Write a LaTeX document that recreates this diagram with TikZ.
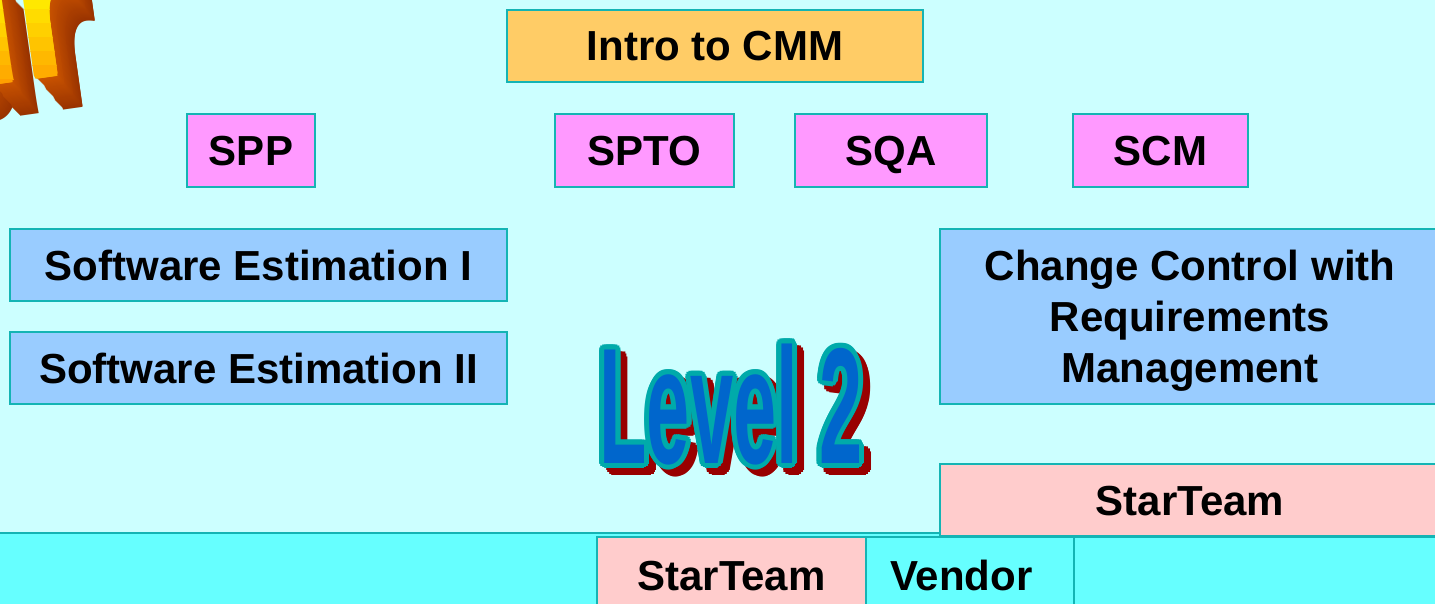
\documentclass[tikz,border=0pt]{standalone}
\usepackage{fontspec}
\setmainfont{Liberation Sans}
\usetikzlibrary{positioning}

\definecolor{pagecyan}{HTML}{CCFFFF}
\definecolor{edgeteal}{HTML}{14B4B4}
\definecolor{introfill}{HTML}{FFCC66}
\definecolor{kpafill}{HTML}{FF99FF}
\definecolor{coursefill}{HTML}{99CCFF}
\definecolor{toolfill}{HTML}{FFCCCC}
\definecolor{bandfill}{HTML}{66FFFF}
\definecolor{lvlblue}{HTML}{0066CC}
\definecolor{lvlrim}{HTML}{00AAAA}
\definecolor{lvlshadow}{HTML}{990000}
\definecolor{urtop}{HTML}{FFE800}
\definecolor{urbot}{HTML}{FF9200}
\definecolor{urside}{HTML}{CC5500}
\definecolor{urdeep}{HTML}{993300}

\begin{document}
\begin{tikzpicture}[x=1pt,y=-1pt,
  font=\fontsize{42}{51}\selectfont\bfseries,
  box/.style={draw=edgeteal,line width=1.6pt,inner sep=0pt,outer sep=0pt,align=center,anchor=north west},
  oneline/.style={text height=30pt,text depth=0pt},
  kpa/.style={box,oneline,fill=kpafill,minimum height=73pt},
  course/.style={box,fill=coursefill},
  tool/.style={box,oneline,fill=toolfill},
  lvl/.style={inner sep=0pt,anchor=base,xscale=0.47,font=\fontsize{165}{165}\selectfont\bfseries},
  urtxt/.style={inner sep=0pt,anchor=base west,rotate=8,xscale=0.72,font=\fontsize{200}{200}\selectfont\bfseries}]
  \useasboundingbox (0,0) rectangle (1435,604);
  \clip (0,0) rectangle (1435,604);
  \fill[pagecyan] (0,0) rectangle (1435,604);

  % word art in the corner
  \foreach \i in {30,29,...,1} {
    \pgfmathsetmacro\mixv{100*\i/30}
    \node[urtxt,text=urdeep!\mixv!urside] (urx\i) at (-66+0.9*\i,92+1.1*\i) {u\kern8pt r};
  }
  \foreach \k in {0,...,7} {
    \pgfmathsetmacro\mixv{100-\k*14}
    \begin{scope}
      \clip (-80,\k*14-4) rectangle (160,\k*14+10);
      \foreach \a [count=\j] in {0,45,...,315}
        \node[urtxt,text=urtop!\mixv!urbot] (urf\k\j) at ([shift={(\a:2pt)}]-66,92) {u\kern8pt r};
    \end{scope}
  }

  % courses
  \node[box,oneline,fill=introfill,minimum width=416pt,minimum height=72pt] (intro) at (507,10) {Intro to CMM};
  \node[kpa,minimum width=128pt] (spp) at (187,114) {SPP};
  \node[kpa,minimum width=179pt] (spto) at (555,114) {SPTO};
  \node[kpa,minimum width=192pt] (sqa) at (795,114) {SQA};
  \node[kpa,minimum width=175pt] (scm) at (1073,114) {SCM};
  \node[course,oneline,minimum width=497pt,minimum height=72pt] (est1) at (10,229) {Software Estimation I};
  \node[course,oneline,minimum width=497pt,minimum height=72pt] (est2) at (10,332) {Software Estimation II};
  \node[course,minimum width=500pt,minimum height=175pt] (ccrm) at (940,229) {Change Control with\\Requirements\\\smash{Management}};

  % tools band
  \node[box,fill=bandfill,minimum width=1450pt,minimum height=90pt] (band) at (-5,533) {};
  \node[tool,minimum width=500pt,minimum height=72pt] (star1) at (940,464) {StarTeam};
  \node[tool,minimum width=269pt,minimum height=76pt] (star2) at (597,537) {StarTeam};
  \node[box,oneline,fill=bandfill,minimum width=208pt,minimum height=76pt,text width=160pt,align=left,right=0pt of star2] (vendor) {Vendor};
  \node[box,fill=bandfill,minimum width=380pt,minimum height=76pt,right=0pt of vendor] (spare) {};

  % level title
  \coordinate (lvlbase) at (731,463);
  \coordinate (lvlshade) at (738,470);
  \foreach \a [count=\k] in {0,30,...,330}
    \node[lvl,text=lvlshadow] (shade\k) at ([shift={(\a:5pt)}]lvlshade) {Level 2};
  \node[lvl,text=lvlshadow] (shade) at (lvlshade) {Level 2};
  \foreach \a [count=\k] in {0,22.5,...,337.5}
    \node[lvl,text=lvlrim] (rim\k) at ([shift={(\a:5pt)}]lvlbase) {Level 2};
  \node[lvl,text=lvlblue] (level) at (lvlbase) {Level 2};
\end{tikzpicture}
\end{document}
